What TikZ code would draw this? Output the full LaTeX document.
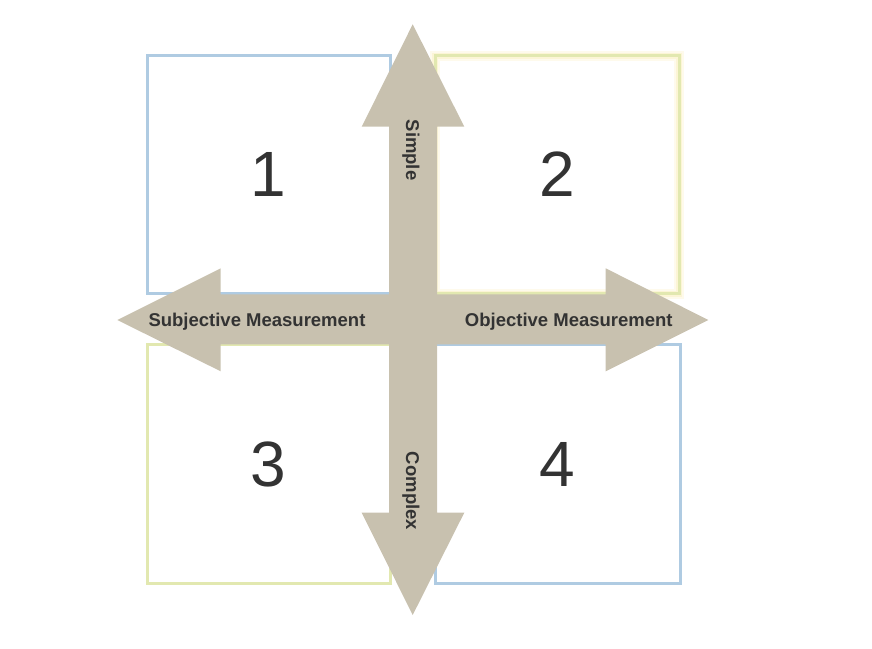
\documentclass[tikz,border=0pt]{standalone}
\usepackage{fontspec}
\setmainfont{Liberation Sans}
\definecolor{boxblue}{HTML}{AFCBE2}
\definecolor{boxyellow}{HTML}{E2E8B0}
\definecolor{glowyellow}{HTML}{FBEFC0}
\definecolor{arrowfill}{HTML}{C8C1AF}
\definecolor{txt}{HTML}{333333}
\tikzset{
  quad/.style={draw, line width=3pt, minimum width=#1, inner sep=0pt, text=txt,
    font=\fontsize{64}{70}\selectfont},
  axislabel/.style={text=txt, font=\bfseries\fontsize{18.5}{20}\selectfont, inner sep=0pt, anchor=base},
  arrowshape/.style={fill=arrowfill, draw=none}
}
\begin{document}
\begin{tikzpicture}[x=1pt,y=-1pt]
\useasboundingbox (0,0) rectangle (872,648);
% glow of box 2
\draw[glowyellow, line width=10pt, opacity=0.3] (435,55.5) rectangle (679,293.5);
\draw[glowyellow, line width=6pt, opacity=0.5] (435,55.5) rectangle (679,293.5);
% boxes
\node[quad=243.5pt, minimum height=238pt, draw=boxblue] (b1) at (268.75,174.5) {1};
\node[quad=244pt, minimum height=238pt, draw=boxyellow] (b2) at (557,174.5) {2};
\node[quad=243.5pt, minimum height=239pt, draw=boxyellow] (b3) at (268.75,464) {3};
\node[quad=245pt, minimum height=239pt, draw=boxblue] (b4) at (557.5,464) {4};
% arrows
\fill[arrowshape] (412.7,24.3) -- (464.3,126.7) -- (437,126.7) -- (437,512.7) -- (464.3,512.7)
  -- (412.7,615) -- (361.7,512.7) -- (389,512.7) -- (389,126.7) -- (361.7,126.7) -- cycle;
\fill[arrowshape] (117.3,320) -- (220.7,268.3) -- (220.7,294.3) -- (605.7,294.3) -- (605.7,268.3)
  -- (708.3,320) -- (605.7,371.3) -- (605.7,344.3) -- (220.7,344.3) -- (220.7,371.3) -- cycle;
% labels
\node[axislabel] (subj) at (257,326) {Subjective Measurement};
\node[axislabel] (obj) at (568.8,326) {Objective Measurement};
\node[axislabel, rotate=-90] (simple) at (406,150) {Simple};
\node[axislabel, rotate=-90] (complex) at (406,491) {Complex};
\end{tikzpicture}
\end{document}
